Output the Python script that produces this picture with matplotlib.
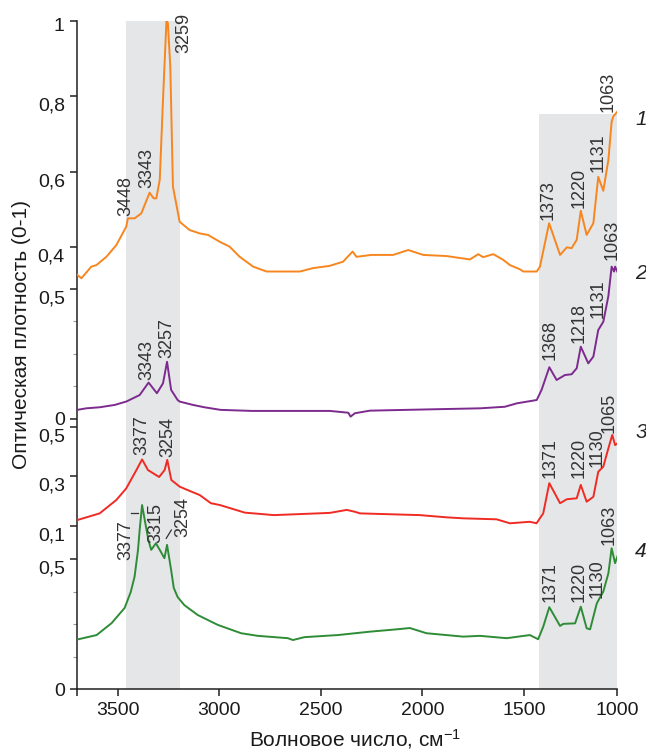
import matplotlib
matplotlib.use("Agg")
import matplotlib.pyplot as plt
import matplotlib.transforms as mtransforms

plt.rcParams["font.family"] = ["Liberation Sans", "DejaVu Sans"]
plt.rcParams["mathtext.default"] = "regular"

# ---- data: wavenumber (cm-1) and optical density (0-1) ----
wn1 = [3700, 3680, 3631, 3606, 3557, 3508, 3459, 3451, 3418, 3385, 3344, 3324, 3311, 3294, 3278,
       3261, 3254, 3242, 3229, 3196, 3147, 3097, 3056, 2999, 2950, 2900, 2834, 2768, 2604, 2539,
       2457, 2391, 2344, 2325, 2251, 2144, 2070, 1996, 1881, 1766, 1725, 1701, 1651, 1602, 1569,
       1520, 1503, 1437, 1421, 1376, 1322, 1289, 1265, 1240, 1220, 1191, 1158, 1134, 1109, 1084,
       1068, 1060, 1040]
od1 = [0.326, 0.317, 0.348, 0.352, 0.374, 0.405, 0.454, 0.476, 0.476, 0.489, 0.544, 0.529, 0.529, 0.578, 0.790,
       1.000, 0.994, 0.878, 0.560, 0.467, 0.445, 0.436, 0.432, 0.414, 0.401, 0.374, 0.348, 0.335, 0.335, 0.344,
       0.350, 0.361, 0.388, 0.374, 0.379, 0.379, 0.392, 0.379, 0.376, 0.367, 0.381, 0.373, 0.381, 0.366, 0.352,
       0.341, 0.335, 0.335, 0.348, 0.463, 0.379, 0.399, 0.397, 0.419, 0.496, 0.432, 0.463, 0.586, 0.549, 0.631,
       0.732, 0.746, 0.759]

wn2 = [3700, 3656, 3590, 3516, 3459, 3393, 3349, 3308, 3278, 3258, 3238, 3206, 3196, 3130, 3074,
       2994, 2841, 2456, 2365, 2354, 2333, 2259, 1963, 1716, 1594, 1536, 1437, 1413, 1375, 1339,
       1298, 1265, 1240, 1220, 1183, 1158, 1134, 1109, 1084, 1068, 1056, 1051, 1040]
od2 = [0.035, 0.041, 0.045, 0.054, 0.067, 0.092, 0.140, 0.099, 0.137, 0.220, 0.112, 0.073, 0.067, 0.054, 0.045,
       0.035, 0.031, 0.031, 0.024, 0.009, 0.022, 0.032, 0.037, 0.041, 0.047, 0.060, 0.073, 0.112, 0.199, 0.150,
       0.169, 0.172, 0.195, 0.278, 0.214, 0.240, 0.342, 0.374, 0.473, 0.586, 0.567, 0.586, 0.567]

wn3 = [3700, 3590, 3508, 3459, 3409, 3381, 3352, 3297, 3270, 3257, 3237, 3196, 3156, 3097, 3042,
       2999, 2875, 2732, 2515, 2456, 2373, 2335, 2308, 2013, 1881, 1799, 1635, 1569, 1471, 1438,
       1405, 1375, 1322, 1289, 1240, 1220, 1191, 1158, 1134, 1109, 1084, 1065, 1051, 1040]
od3 = [0.124, 0.151, 0.205, 0.252, 0.326, 0.369, 0.326, 0.298, 0.326, 0.367, 0.286, 0.259, 0.245, 0.225, 0.192,
       0.185, 0.154, 0.144, 0.151, 0.153, 0.165, 0.158, 0.151, 0.144, 0.135, 0.131, 0.127, 0.111, 0.117, 0.111,
       0.151, 0.273, 0.192, 0.208, 0.212, 0.266, 0.198, 0.218, 0.319, 0.340, 0.414, 0.468, 0.427, 0.434]

wn4 = [3700, 3605, 3531, 3467, 3437, 3418, 3401, 3393, 3381, 3368, 3350, 3336, 3313, 3294, 3271,
       3258, 3238, 3225, 3206, 3173, 3107, 3008, 2893, 2811, 2663, 2638, 2581, 2417, 2259, 2127,
       2062, 1980, 1799, 1717, 1585, 1471, 1430, 1405, 1375, 1322, 1306, 1248, 1220, 1191, 1174,
       1141, 1109, 1084, 1068, 1051, 1040]
od4 = [0.191, 0.208, 0.254, 0.312, 0.373, 0.432, 0.535, 0.611, 0.707, 0.650, 0.573, 0.535, 0.560, 0.535, 0.503,
       0.554, 0.458, 0.389, 0.354, 0.323, 0.285, 0.247, 0.215, 0.205, 0.196, 0.189, 0.200, 0.208, 0.221, 0.230,
       0.235, 0.215, 0.202, 0.205, 0.196, 0.208, 0.192, 0.240, 0.315, 0.243, 0.251, 0.253, 0.317, 0.234, 0.230,
       0.330, 0.375, 0.445, 0.541, 0.484, 0.509]

# peak labels: (text, wavenumber of label, optical density at label foot)
peaks1 = [("3448", 3462, 0.482), ("3343", 3356, 0.556), ("3259", 3176, 0.914),
          ("1373", 1379, 0.472), ("1220", 1226, 0.503), ("1131", 1133, 0.599), ("1063", 1086, 0.758)]
peaks2 = [("3343", 3356, 0.150), ("3257", 3260, 0.235), ("1368", 1370, 0.227),
          ("1218", 1226, 0.292), ("1131", 1133, 0.388), ("1063", 1066, 0.612)]
peaks3 = [("3377", 3383, 0.387), ("3254", 3255, 0.379), ("1371", 1370, 0.294),
          ("1220", 1226, 0.294), ("1130", 1140, 0.338), ("1065", 1081, 0.476)]
peaks4 = [("3377", 3460, 0.496), ("3315", 3313, 0.561), ("3254", 3181, 0.584),
          ("1371", 1370, 0.335), ("1220", 1226, 0.335), ("1130", 1140, 0.350), ("1063", 1081, 0.554)]

# y tick values of each spectrum's own scale
ticks1 = [1, 0.8, 0.6, 0.4]
ticks2 = [0.5, 0]
ticks3 = [0.5, 0.3, 0.1]
ticks4 = [0.5, 0]
minor2 = [0.125, 0.25, 0.375]
minor4 = [0.125, 0.25, 0.375]

trace_names = ["1", "2", "3", "4"]

# ---- layout: vertical offset/scale of each spectrum in the stacked axis ----
spectra = [
    dict(wn=wn1, od=od1, peaks=peaks1, ticks=ticks1, minor=[], base=0.4359, scale=0.5641,
         color="#f7861f", name_od=0.737),
    dict(wn=wn2, od=od2, peaks=peaks2, ticks=ticks2, minor=minor2, base=0.4043, scale=0.3889,
         color="#7d2a8f", name_od=0.560),
    dict(wn=wn3, od=od3, peaks=peaks3, ticks=ticks3, minor=[], base=0.2072, scale=0.3702,
         color="#ef2b23", name_od=0.476),
    dict(wn=wn4, od=od4, peaks=peaks4, ticks=ticks4, minor=minor4, base=0.0, scale=0.3898,
         color="#2f8c36", name_od=0.530),
]

band_color = "#e5e6e8"
text_color = "#333333"
axis_color = "#231f20"

fig = plt.figure(figsize=(6.46, 7.51), dpi=100)
ax = fig.add_axes([0.1197, 0.0822, 0.8359, 0.8902])

x_left, x_right = 3700, 1040
ax.set_xlim(x_left, x_right)
ax.set_ylim(0, 1)

# shaded regions
ax.axvspan(3462, 3196, ymin=0, ymax=1, color=band_color, lw=0, zorder=0)
ax.axvspan(1426, x_right, ymin=0, ymax=0.860, color=band_color, lw=0, zorder=0)

major_pos, major_lab, minor_pos = [], [], []
for sp, name in zip(spectra, trace_names):
    b, s = sp["base"], sp["scale"]
    ax.plot(sp["wn"], [b + s * v for v in sp["od"]], color=sp["color"], lw=1.4, zorder=3)
    for lab, x, v in sp["peaks"]:
        ax.text(x, b + s * v, lab, rotation=90, ha="center", va="bottom",
                fontsize=13, color=text_color, zorder=4)
    for t in sp["ticks"]:
        major_pos.append(b + s * t)
        major_lab.append(f"{t:g}".replace(".", ","))
    minor_pos += [b + s * t for t in sp["minor"]]
    ax.text(923, b + s * sp["name_od"], name, ha="center", va="center", fontsize=15,
            style="italic", color="#222222", clip_on=False)

# leader lines of spectrum 4
s4 = spectra[3]
ax.plot([3435, 3400], [s4["base"] + s4["scale"] * 0.678] * 2, color=text_color, lw=0.9, zorder=4)
ax.plot([3262, 3237], [s4["base"] + s4["scale"] * 0.579, s4["base"] + s4["scale"] * 0.611],
        color=text_color, lw=0.9, zorder=4)

ax.set_yticks(major_pos)
ax.set_yticklabels(major_lab)
ax.set_yticks(minor_pos, minor=True)

ax.set_xticks([3500, 3000, 2500, 2000, 1500, x_right])
ax.set_xticklabels(["3500", "3000", "2500", "2000", "1500", "1000"])
ax.set_xticks([x_left], minor=True)

for side in ["top", "right"]:
    ax.spines[side].set_visible(False)
for side in ["left", "bottom"]:
    ax.spines[side].set_color(axis_color)
    ax.spines[side].set_linewidth(1.1)

ax.tick_params(which="major", direction="out", length=5, width=1.1, color=axis_color,
               labelsize=14, pad=4, labelcolor="#1a1a1a")
ax.tick_params(axis="y", which="minor", direction="out", length=3, width=0.8, color="#9a9a9a")
ax.tick_params(axis="x", which="minor", direction="out", length=5, width=1.1, color=axis_color)

# the decimal labels sit a little below their ticks in the original
for lbl in ax.get_yticklabels():
    txt = lbl.get_text()
    dy = 8 if "," in txt else (4 if txt == "1" else 0)
    lbl.set_transform(lbl.get_transform() +
                      mtransforms.ScaledTranslation(0, -dy / 100, fig.dpi_scale_trans))

ax.set_ylabel("Оптическая плотность (0-1)", fontsize=15, color="#1a1a1a")
ax.yaxis.set_label_coords(-0.104, 0.53)
ax.yaxis.label.set_verticalalignment("center")
ax.set_xlabel("Волновое число, см$^{-1}$", fontsize=15, color="#1a1a1a")
ax.xaxis.set_label_coords(0.514, -0.074)
ax.xaxis.label.set_verticalalignment("center")

fig.savefig("out.png", dpi=100)
